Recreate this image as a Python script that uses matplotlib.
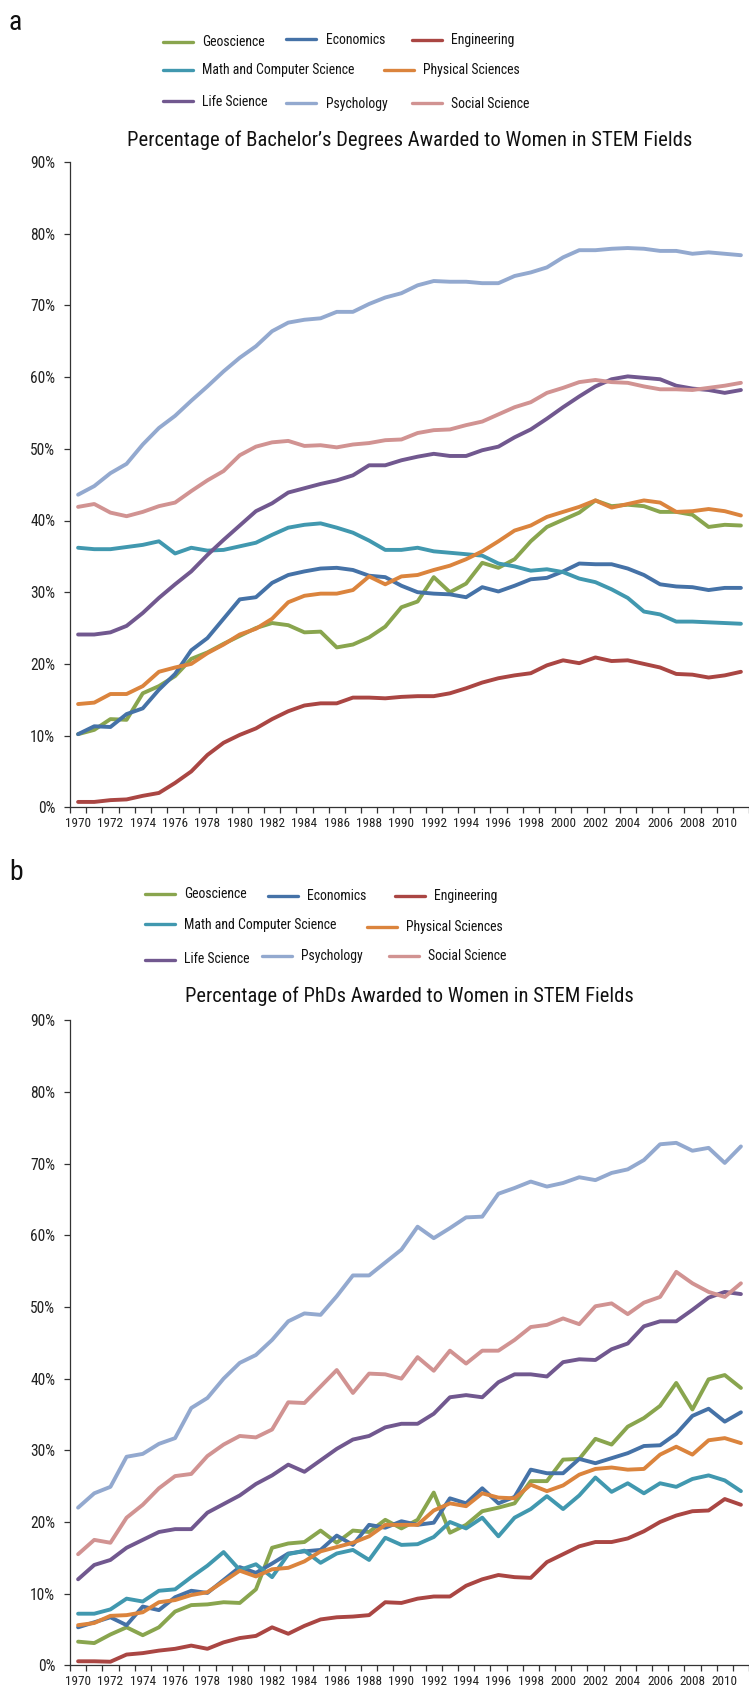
import numpy as np
import matplotlib
matplotlib.use('Agg')
import matplotlib.pyplot as plt
from matplotlib import font_manager
from matplotlib.lines import Line2D

# the reference uses a condensed sans; take a narrow face if one is installed
installed = {f.name for f in font_manager.fontManager.ttflist}
prefer = ['Liberation Sans Narrow', 'Roboto Condensed', 'Noto Sans Condensed',
          'Open Sans Condensed', 'Noto Sans SemiCondensed', 'Noto Sans ExtraCondensed']
narrow = [n for n in prefer if n in installed]
if not narrow:
    narrow = sorted(n for n in installed if ('Condensed' in n or 'Narrow' in n))
plt.rcParams['font.family'] = narrow[:1] + ['Liberation Sans', 'DejaVu Sans']

# years on the category axis
years = np.arange(1970, 2012)

fields = ['Geoscience', 'Economics', 'Engineering', 'Math and Computer Science',
          'Physical Sciences', 'Life Science', 'Psychology', 'Social Science']
colors = ['#89A54E', '#4572A7', '#AA4643', '#4198AF',
          '#DB843D', '#71588F', '#93A9CF', '#D19392']

# panel a - bachelor's degrees (% women)
geo_a = [10.2, 10.8, 12.3, 12.2, 15.9, 16.9, 18.3, 20.7, 21.6, 22.8,
         23.9, 25.0, 25.7, 25.4, 24.4, 24.5, 22.3, 22.7, 23.7, 25.2,
         27.9, 28.7, 32.1, 30.0, 31.2, 34.1, 33.4, 34.6, 37.1, 39.1,
         40.1, 41.1, 42.8, 42.0, 42.2, 42.0, 41.2, 41.2, 40.8, 39.1,
         39.4, 39.3]
econ_a = [10.2, 11.3, 11.2, 13.0, 13.8, 16.4, 18.6, 21.9, 23.6, 26.3,
          29.0, 29.3, 31.3, 32.4, 32.9, 33.3, 33.4, 33.1, 32.3, 32.1,
          30.9, 30.0, 29.8, 29.7, 29.3, 30.7, 30.1, 30.9, 31.8, 32.0,
          32.9, 34.0, 33.9, 33.9, 33.3, 32.4, 31.1, 30.8, 30.7, 30.3,
          30.6, 30.6]
eng_a = [0.75, 0.75, 1.0, 1.1, 1.6, 2.0, 3.4, 5.0, 7.3, 9.0,
         10.1, 11.0, 12.3, 13.4, 14.2, 14.5, 14.5, 15.3, 15.3, 15.2,
         15.4, 15.5, 15.5, 15.9, 16.6, 17.4, 18.0, 18.4, 18.7, 19.8,
         20.5, 20.1, 20.9, 20.4, 20.5, 20.0, 19.5, 18.6, 18.5, 18.1,
         18.4, 18.9]
math_a = [36.2, 36.0, 36.0, 36.3, 36.6, 37.1, 35.4, 36.2, 35.8, 35.9,
          36.4, 36.9, 38.0, 39.0, 39.4, 39.6, 39.0, 38.3, 37.2, 35.9,
          35.9, 36.2, 35.7, 35.5, 35.3, 35.1, 34.0, 33.6, 33.0, 33.2,
          32.8, 31.9, 31.4, 30.4, 29.2, 27.3, 26.9, 25.9, 25.9, 25.8,
          25.7, 25.6]
phys_a = [14.4, 14.6, 15.8, 15.8, 16.9, 18.9, 19.5, 20.0, 21.5, 22.7,
          24.1, 24.9, 26.3, 28.6, 29.5, 29.8, 29.8, 30.3, 32.2, 31.1,
          32.2, 32.4, 33.1, 33.7, 34.6, 35.7, 37.1, 38.6, 39.3, 40.5,
          41.2, 41.9, 42.8, 41.8, 42.3, 42.8, 42.5, 41.2, 41.3, 41.6,
          41.3, 40.7]
life_a = [24.1, 24.1, 24.4, 25.3, 27.1, 29.2, 31.1, 32.9, 35.2, 37.3,
          39.3, 41.3, 42.4, 43.9, 44.5, 45.1, 45.6, 46.3, 47.7, 47.7,
          48.4, 48.9, 49.3, 49.0, 49.0, 49.8, 50.3, 51.6, 52.7, 54.2,
          55.8, 57.3, 58.7, 59.7, 60.1, 59.9, 59.7, 58.8, 58.4, 58.2,
          57.8, 58.2]
psych_a = [43.6, 44.8, 46.6, 47.9, 50.6, 52.9, 54.6, 56.7, 58.7, 60.8,
           62.7, 64.3, 66.4, 67.6, 68.0, 68.2, 69.1, 69.1, 70.2, 71.1,
           71.7, 72.8, 73.4, 73.3, 73.3, 73.1, 73.1, 74.1, 74.6, 75.3,
           76.7, 77.7, 77.7, 77.9, 78.0, 77.9, 77.6, 77.6, 77.2, 77.4,
           77.2, 77.0]
social_a = [41.9, 42.3, 41.1, 40.6, 41.2, 42.0, 42.5, 44.1, 45.6, 46.9,
            49.1, 50.3, 50.9, 51.1, 50.4, 50.5, 50.2, 50.6, 50.8, 51.2,
            51.3, 52.2, 52.6, 52.7, 53.3, 53.8, 54.8, 55.8, 56.5, 57.8,
            58.5, 59.3, 59.6, 59.3, 59.2, 58.7, 58.3, 58.3, 58.2, 58.5,
            58.8, 59.2]

# panel b - PhDs (% women)
geo_b = [3.3, 3.1, 4.3, 5.3, 4.2, 5.3, 7.5, 8.4, 8.5, 8.8,
         8.7, 10.6, 16.4, 17.0, 17.2, 18.8, 17.1, 18.8, 18.6, 20.3,
         19.1, 20.3, 24.1, 18.5, 19.6, 21.5, 22.0, 22.6, 25.7, 25.7,
         28.7, 28.8, 31.6, 30.8, 33.3, 34.5, 36.2, 39.4, 35.7, 39.9,
         40.5, 38.7]
econ_b = [5.3, 6.0, 6.7, 5.6, 8.2, 7.7, 9.5, 10.4, 10.1, 11.9,
          13.7, 12.9, 14.2, 15.6, 15.9, 16.1, 18.1, 16.8, 19.6, 19.2,
          20.1, 19.6, 19.9, 23.3, 22.6, 24.7, 22.6, 23.5, 27.3, 26.8,
          26.8, 28.8, 28.2, 28.9, 29.6, 30.6, 30.7, 32.3, 34.8, 35.8,
          34.0, 35.3]
eng_b = [0.56, 0.56, 0.5, 1.5, 1.7, 2.05, 2.3, 2.75, 2.3, 3.2,
         3.8, 4.1, 5.3, 4.4, 5.5, 6.4, 6.7, 6.8, 7.0, 8.8,
         8.7, 9.3, 9.6, 9.6, 11.1, 12.0, 12.6, 12.3, 12.2, 14.4,
         15.5, 16.6, 17.2, 17.2, 17.7, 18.7, 20.0, 20.9, 21.5, 21.6,
         23.2, 22.4]
math_b = [7.2, 7.2, 7.8, 9.3, 8.9, 10.4, 10.6, 12.3, 13.9, 15.8,
          13.3, 14.1, 12.3, 15.5, 16.0, 14.3, 15.6, 16.1, 14.7, 17.8,
          16.8, 16.9, 17.9, 20.0, 19.1, 20.6, 18.0, 20.6, 21.8, 23.6,
          21.8, 23.7, 26.2, 24.2, 25.4, 24.0, 25.4, 24.9, 26.0, 26.5,
          25.8, 24.3]
phys_b = [5.6, 5.9, 6.9, 7.0, 7.4, 8.8, 9.1, 9.8, 10.2, 11.7,
          13.2, 12.4, 13.4, 13.6, 14.5, 15.9, 16.5, 17.1, 18.0, 19.6,
          19.6, 19.6, 21.6, 22.6, 22.2, 24.0, 23.4, 23.3, 25.2, 24.3,
          25.1, 26.6, 27.4, 27.6, 27.3, 27.4, 29.4, 30.5, 29.4, 31.4,
          31.7, 31.0]
life_b = [12.0, 14.0, 14.7, 16.4, 17.5, 18.6, 19.0, 19.0, 21.3, 22.5,
          23.7, 25.3, 26.5, 28.0, 27.0, 28.6, 30.2, 31.5, 32.0, 33.2,
          33.7, 33.7, 35.1, 37.4, 37.7, 37.4, 39.5, 40.6, 40.6, 40.3,
          42.3, 42.7, 42.6, 44.1, 44.9, 47.3, 48.0, 48.0, 49.6, 51.3,
          52.1, 51.8]
psych_b = [22.0, 24.0, 24.9, 29.1, 29.5, 30.9, 31.7, 35.9, 37.3, 40.0,
           42.2, 43.3, 45.4, 48.0, 49.1, 48.9, 51.5, 54.4, 54.4, 56.2,
           58.0, 61.2, 59.6, 61.0, 62.5, 62.6, 65.8, 66.6, 67.5, 66.8,
           67.3, 68.1, 67.7, 68.7, 69.2, 70.5, 72.7, 72.9, 71.8, 72.2,
           70.1, 72.4]
social_b = [15.5, 17.5, 17.1, 20.6, 22.4, 24.7, 26.4, 26.7, 29.2, 30.8,
            32.0, 31.8, 32.9, 36.7, 36.6, 38.9, 41.2, 38.0, 40.7, 40.6,
            40.0, 43.0, 41.1, 43.9, 42.1, 43.9, 43.9, 45.4, 47.2, 47.5,
            48.4, 47.6, 50.1, 50.5, 49.0, 50.6, 51.4, 54.9, 53.3, 52.1,
            51.4, 53.3]

series_a = [geo_a, econ_a, eng_a, math_a, phys_a, life_a, psych_a, social_a]
series_b = [geo_b, econ_b, eng_b, math_b, phys_b, life_b, psych_b, social_b]

title_a = 'Percentage of Bachelor’s Degrees Awarded to Women in STEM Fields'
title_b = 'Percentage of PhDs Awarded to Women in STEM Fields'

W, H = 749, 1691
fig = plt.figure(figsize=(W / 100, H / 100), dpi=100)
renderer = fig.canvas.get_renderer()


def box(x0, y0, x1, y1):
    # pixel box (top-left origin) -> figure fraction rect
    return [x0 / W, 1 - y1 / H, (x1 - x0) / W, (y1 - y0) / H]


def fx(x):
    return x / W


def fy(y):
    return 1 - y / H


def fit_size(text, target_px, lo, hi):
    # font size giving the text the width it has in the reference
    t = fig.text(0, 0, text, fontsize=12)
    w = t.get_window_extent(renderer).width
    t.remove()
    return max(lo, min(hi, 12 * target_px / w))


xtick_size = fit_size('1970', 26, 8.5, 11.5)
ytick_size = fit_size('90%', 25, 8.5, 11.5)
legend_size = fit_size('Math and Computer Science', 153, 8.5, 12)
title_a_size = fit_size(title_a, 562, 11, 17)
title_b_size = fit_size(title_b, 447, 11, 17)


def draw_panel(ax, series):
    for vals, col in zip(series, colors):
        ax.plot(years, vals, color=col, lw=2.8, solid_joinstyle='round',
                solid_capstyle='round', clip_on=False)
    ax.set_xlim(1969.5, 2011.5)
    ax.set_ylim(0, 90)
    ax.set_yticks(np.arange(0, 100, 10))
    ax.set_yticklabels([f'{v}%' for v in range(0, 100, 10)])
    ax.set_xticks(years[::2])
    ax.set_xticklabels([str(y) for y in years[::2]])
    ax.set_xticks(np.arange(1969.5, 2012, 1), minor=True)
    ax.tick_params(axis='x', which='major', length=0, pad=7, labelsize=xtick_size,
                   colors='#222222')
    ax.tick_params(axis='x', which='minor', length=4, width=0.9, color='#333333')
    ax.tick_params(axis='y', length=4, width=0.9, pad=6.5, labelsize=ytick_size,
                   color='#333333', labelcolor='#222222')
    for s in ['top', 'right']:
        ax.spines[s].set_visible(False)
    for s in ['left', 'bottom']:
        ax.spines[s].set_color('#333333')
        ax.spines[s].set_linewidth(0.9)


def draw_legend(items):
    # items: handle x, handle y, label x, label y (pixels)
    for i, (hx, hy, tx, ty) in enumerate(items):
        fig.add_artist(Line2D([fx(hx), fx(hx + 30)], [fy(hy), fy(hy)], color=colors[i],
                              lw=2.4, solid_capstyle='round'))
        fig.text(fx(tx), fy(ty + 5), fields[i], fontsize=legend_size, va='baseline',
                 ha='left', color='#111111')


ax_a = fig.add_axes(box(70, 162, 749, 807.3))
draw_panel(ax_a, series_a)
ax_b = fig.add_axes(box(70, 1020.3, 749, 1665.3))
draw_panel(ax_b, series_b)

legend_a = [(162.7, 41.7, 201.7, 41), (286, 39.3, 325.7, 39), (411.7, 40, 451, 39.3),
            (162.7, 70, 201.7, 69.3), (384.3, 70, 423.3, 69.3),
            (162.7, 101, 201.7, 100.7), (286, 103.3, 325.7, 102.7), (411.7, 103.3, 451, 102.7)]
legend_b = [(144.5, 894, 183.7, 893.3), (268, 895.7, 307.2, 895), (394.8, 895.7, 434, 895),
            (144.5, 924, 183.7, 924), (367, 926.7, 406, 926),
            (144.5, 960, 183.7, 958), (262, 955.7, 301, 955), (389, 955.7, 428, 955)]
draw_legend(legend_a)
draw_legend(legend_b)

fig.text(fx(409.5), fy(138.3 + 7.5), title_a, fontsize=title_a_size, ha='center',
         va='baseline', color='#111111')
fig.text(fx(409.5), fy(994 + 7.5), title_b, fontsize=title_b_size, ha='center',
         va='baseline', color='#111111')

fig.text(fx(9), fy(30), 'a', fontsize=20, ha='left', va='baseline', color='#111111')
fig.text(fx(9), fy(880), 'b', fontsize=20, ha='left', va='baseline', color='#111111')

fig.savefig('out.png', dpi=100)
